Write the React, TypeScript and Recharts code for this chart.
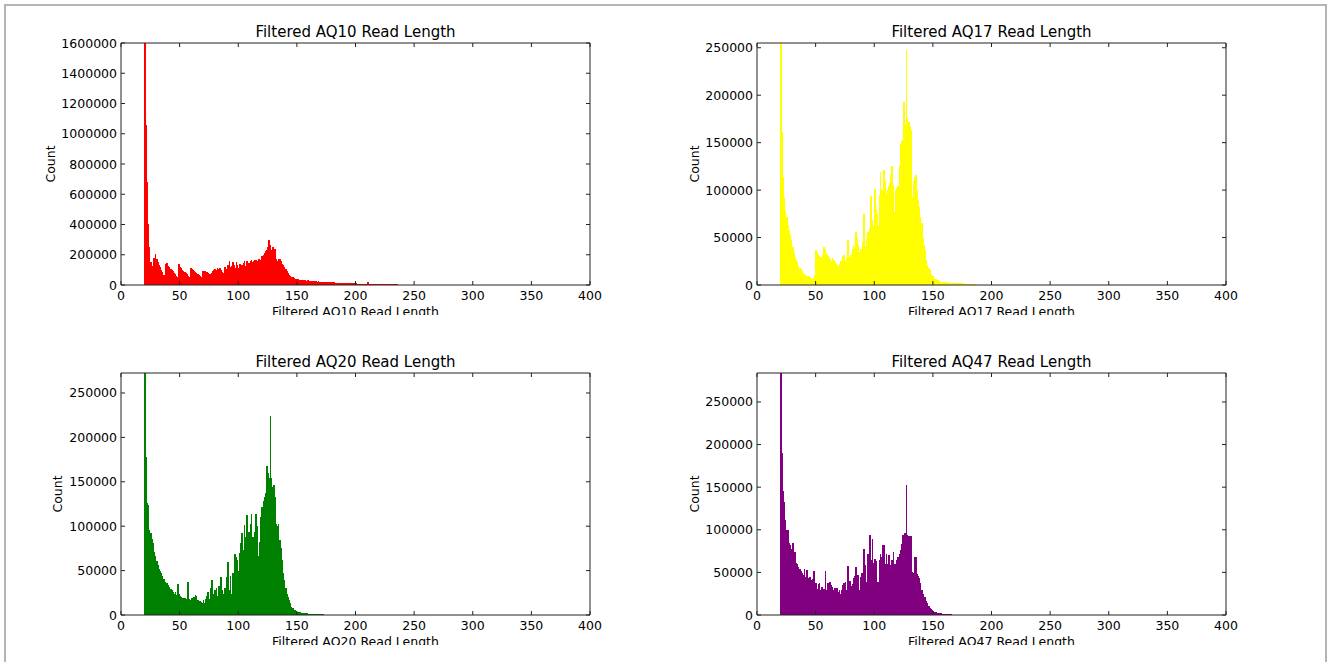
import { Bar, BarChart, ReferenceLine, XAxis, YAxis } from 'recharts'

// Histogram counts per read length, first bin at length 20
const FIRST_LENGTH = 20

const AQ10_COUNTS = [
  1650000, 1060000, 680000, 405000, 248000, 150000, 128000, 85000, 180000, 205000,
  172000, 150000, 132000, 116000, 100000, 84000, 68000, 52000, 140000, 148000,
  128000, 118000, 108000, 100000, 92000, 80000, 70000, 60000, 55000, 140000,
  120000, 110000, 100000, 95000, 85000, 80000, 72000, 60000, 50000, 115000,
  108000, 100000, 92000, 86000, 80000, 75000, 66000, 58000, 52000, 95000,
  92000, 90000, 88000, 84000, 80000, 76000, 72000, 80000, 92000, 100000,
  104000, 102000, 110000, 106000, 112000, 98000, 86000, 82000, 120000, 108000,
  88000, 130000, 160000, 120000, 125000, 150000, 135000, 110000, 155000, 135000,
  115000, 140000, 120000, 130000, 148000, 160000, 128000, 156000, 130000, 145000,
  158000, 164000, 150000, 158000, 165000, 168000, 160000, 172000, 140000, 165000,
  190000, 200000, 212000, 225000, 230000, 250000, 300000, 265000, 230000, 250000,
  232000, 240000, 175000, 158000, 172000, 175000, 158000, 142000, 130000, 120000,
  108000, 95000, 80000, 68000, 58000, 52000, 50000, 46000, 42000, 40000,
  38000, 37000, 36000, 35000, 34000, 33000, 31000, 30000, 29000, 30000,
  29000, 28000, 27000, 26000, 25000, 25000, 24000, 23000, 24000, 23000,
  22000, 22000, 23000, 21000, 20000, 20000, 19000, 19000, 18000, 18000,
  17000, 17000, 16000, 16000, 15000, 15000, 14000, 14000, 13500, 14000,
  13000, 13000, 12500, 12000, 12000, 11500, 11000, 11000, 10500, 10000,
  10000, 9500, 9000, 9000, 8800, 8500, 8200, 8000, 7800, 7600,
  22000, 7400, 7200, 7000, 6800, 6600, 6400, 6200, 6000, 6000,
  5800, 5600, 5500, 5400, 5200, 5000, 5000, 4800, 4600, 4500,
  4400, 4200, 4000, 3800, 3600, 3500,
]

const AQ17_COUNTS = [
  260000, 161000, 114000, 93000, 79000, 72000, 63000, 58000, 53000, 47000,
  40000, 34000, 30000, 26000, 24000, 20000, 18000, 16500, 15000, 13000,
  12000, 11000, 10000, 9500, 9000, 8000, 7000, 6000, 7500, 11000,
  37000, 35000, 33000, 31000, 29000, 30000, 32000, 40000, 38000, 33000,
  31000, 30000, 27000, 25000, 28000, 26000, 24000, 22000, 21000, 20000,
  22000, 25000, 24000, 31000, 32000, 25000, 28000, 47000, 30000, 26000,
  32000, 38000, 42000, 40000, 56000, 50000, 42000, 35000, 38000, 33000,
  45000, 75000, 40000, 48000, 56000, 33000, 60000, 94000, 68000, 62000,
  101000, 80000, 75000, 62000, 95000, 119000, 100000, 98000, 121000, 110000,
  96000, 100000, 104000, 108000, 116000, 125000, 105000, 77000, 100000, 102000,
  104000, 125000, 149000, 152000, 153000, 193000, 170000, 248000, 176000, 172000,
  168000, 163000, 93000, 110000, 114000, 116000, 100000, 90000, 82000, 72000,
  65000, 49000, 42000, 37000, 26000, 21000, 18000, 16000, 12000, 10000,
  9000, 6500, 6000, 5500, 5000, 4000, 3500, 3500, 3200, 3000,
  3000, 2800, 2700, 2600, 2500, 2400, 2300, 2200, 2100, 2000,
  2000, 1900, 1800, 1800, 1700, 1600, 1500, 1500, 1400, 1300,
  1200, 1100, 1000, 900, 800, 700,
]

const AQ20_COUNTS = [
  280000, 178000, 126000, 124000, 96000, 92000, 86000, 81000, 71000, 66000,
  61000, 56000, 52000, 49000, 47000, 44000, 41000, 37500, 36000, 35500,
  34000, 32000, 29000, 28000, 26000, 24000, 26000, 22500, 35000, 24000,
  21000, 20000, 19500, 19000, 19000, 18500, 17000, 37500, 18000, 16500,
  19000, 15000, 20000, 22000, 21000, 17000, 15000, 16000, 14500, 13000,
  17000, 13000, 18000, 21000, 26000, 18000, 30000, 39000, 24000, 18000,
  28000, 30000, 21000, 33000, 22000, 43000, 28000, 24000, 30000, 18000,
  43000, 60000, 28000, 44000, 24000, 47000, 40000, 69000, 65000, 62000,
  49000, 70000, 81000, 92000, 73000, 101000, 88000, 113000, 84000, 93000,
  102000, 114000, 88000, 84000, 93000, 114000, 100000, 66000, 82000, 110000,
  122000, 128000, 133000, 137000, 168000, 160000, 154000, 224000, 154000, 144000,
  146000, 133000, 102000, 100000, 102000, 84000, 75000, 62000, 47000, 39000,
  30000, 24000, 20000, 17000, 14000, 9000, 8000, 6000, 5600, 4900,
  3700, 3200, 3000, 2800, 2500, 2300, 2100, 1900, 1800, 1600,
  1500, 1400, 1300, 1200, 1100, 1000, 1000, 900, 900, 800,
  1500, 700, 600,
]

const AQ47_COUNTS = [
  290000, 190000, 145000, 133000, 111000, 100000, 100000, 85000, 82000, 77000,
  84000, 72000, 74000, 61000, 60000, 56000, 54000, 52000, 49000, 47000,
  54000, 45000, 53000, 43000, 42000, 45000, 41000, 42000, 52000, 36000,
  38000, 31000, 36000, 38000, 29000, 33000, 29000, 31000, 52000, 29000,
  37000, 31000, 39000, 35000, 33000, 29000, 32000, 27000, 32000, 27000,
  29000, 25000, 29000, 35000, 38000, 39000, 29000, 57000, 38000, 40000,
  34000, 36000, 43000, 46000, 56000, 42000, 47000, 29000, 45000, 49000,
  29000, 77000, 59000, 39000, 72000, 45000, 94000, 64000, 89000, 61000,
  66000, 63000, 33000, 39000, 64000, 72000, 68000, 82000, 82000, 60000,
  72000, 60000, 70000, 59000, 49000, 65000, 74000, 60000, 49000, 64000,
  68000, 72000, 76000, 83000, 94000, 88000, 96000, 152000, 94000, 93000,
  92000, 93000, 50000, 49000, 68000, 68000, 48000, 46000, 43000, 37000,
  29000, 25000, 21000, 21000, 17000, 14000, 10500, 8000, 6600, 6400,
  5000, 4000, 3200, 2800, 2500, 2200, 2000, 1800, 1600, 1500,
  1300, 1200, 1100, 1000, 1200, 800,
]

const X_TICKS = [0, 50, 100, 150, 200, 250, 300, 350, 400]
const Y_TICKS_AQ10 = [0, 200000, 400000, 600000, 800000, 1000000, 1200000, 1400000, 1600000]
const Y_TICKS = [0, 50000, 100000, 150000, 200000, 250000]

const FONT = '"DejaVu Sans", Verdana, sans-serif'
const FRAME = '#222'
const PLOT_W = 469
const PLOT_H = 242
const Y_AXIS_W = 121
const RIGHT_GAP = 30
const TOP_GAP = 28
const TICK_LEN = 4

function XTick({ x, y, payload }: any) {
  return (
    <g>
      <line x1={x} x2={x} y1={y} y2={y - TICK_LEN} stroke={FRAME} />
      <line x1={x} x2={x} y1={y - PLOT_H} y2={y - PLOT_H + TICK_LEN} stroke={FRAME} />
      <text x={x} y={y + 14.5} textAnchor="middle" fontSize={12.5} fontFamily={FONT} fill="#000">
        {payload.value}
      </text>
    </g>
  )
}

function YTick({ x, y, payload }: any) {
  return (
    <g>
      <line x1={x} x2={x + TICK_LEN} y1={y} y2={y} stroke={FRAME} />
      <line x1={x + PLOT_W - TICK_LEN} x2={x + PLOT_W} y1={y} y2={y} stroke={FRAME} />
      <text x={x - 4} y={y} dy="0.36em" textAnchor="end" fontSize={12.5} fontFamily={FONT} fill="#000">
        {payload.value}
      </text>
    </g>
  )
}

// histogram bins touch each other: widen the library's bar a little so no seams show
function BinShape({ x, y, width, height, fill }: any) {
  if (!height || height <= 0) return null
  return <rect x={x - 0.35} y={y} width={width + 0.7} height={height} fill={fill} shapeRendering="crispEdges" />
}

interface PanelProps {
  title: string
  xLabel: string
  color: string
  counts: number[]
  yMax: number
  yTicks: number[]
  left: number
  top: number
  clipBottom: number
  yLabelX: number
}

function Panel({ title, xLabel, color, counts, yMax, yTicks, left, top, clipBottom, yLabelX }: PanelProps) {
  const data = counts.map((count, i) => ({ len: FIRST_LENGTH + i + 0.5, count }))
  const text = { position: 'absolute' as const, whiteSpace: 'nowrap' as const, fontFamily: FONT, color: '#000' }

  return (
    <div style={{ position: 'absolute', left: 0, top: 0, width: 1328, height: clipBottom, overflow: 'hidden' }}>
      <div style={{ ...text, left: left + PLOT_W / 2, top: top - 11, fontSize: 15, lineHeight: '15px', transform: 'translate(-50%, -50%)' }}>
        {title}
      </div>
      <div style={{ ...text, left: left + PLOT_W / 2, top: top + PLOT_H + 26, fontSize: 12.5, lineHeight: '13px', transform: 'translate(-50%, -50%)' }}>
        {xLabel}
      </div>
      <div style={{ ...text, left: yLabelX, top: top + PLOT_H / 2, fontSize: 12.5, lineHeight: '13px', transform: 'translate(-50%, -50%) rotate(-90deg)' }}>
        Count
      </div>
      <div style={{ position: 'absolute', left: left - Y_AXIS_W, top: top - TOP_GAP }}>
        <BarChart
          width={Y_AXIS_W + PLOT_W + RIGHT_GAP}
          height={TOP_GAP + PLOT_H + 60}
          data={data}
          margin={{ top: TOP_GAP, right: RIGHT_GAP, bottom: 0, left: 0 }}
          barCategoryGap={0}
          barGap={0}
        >
          <XAxis
            type="number"
            dataKey="len"
            domain={[0, 400]}
            ticks={X_TICKS}
            interval={0}
            allowDataOverflow
            height={60}
            tickSize={0}
            tickMargin={0}
            tickLine={false}
            axisLine={{ stroke: FRAME }}
            tick={(p: any) => <XTick {...p} />}
          />
          <YAxis
            type="number"
            domain={[0, yMax]}
            ticks={yTicks}
            interval={0}
            allowDataOverflow
            width={Y_AXIS_W}
            tickSize={0}
            tickMargin={0}
            tickLine={false}
            axisLine={{ stroke: FRAME }}
            tick={(p: any) => <YTick {...p} />}
          />
          <Bar dataKey="count" fill={color} shape={(p: any) => <BinShape {...p} />} isAnimationActive={false} />
          <ReferenceLine y={yMax} stroke={FRAME} />
          <ReferenceLine x={400} stroke={FRAME} />
        </BarChart>
      </div>
    </div>
  )
}

export default function App() {
  return (
    <div style={{ position: 'absolute', left: 0, top: 0, width: 1328, height: 662, background: '#fff', overflow: 'hidden' }}>
      <div
        style={{
          position: 'absolute',
          left: 4,
          top: 4,
          width: 1323,
          height: 700,
          boxSizing: 'border-box',
          border: '2px solid #b4b4b4',
        }}
      />
      <Panel title="Filtered AQ10 Read Length" xLabel="Filtered AQ10 Read Length" color="#ff0000"
        counts={AQ10_COUNTS} yMax={1600000} yTicks={Y_TICKS_AQ10} left={121} top={43} clipBottom={315} yLabelX={50} />
      <Panel title="Filtered AQ17 Read Length" xLabel="Filtered AQ17 Read Length" color="#ffff00"
        counts={AQ17_COUNTS} yMax={255000} yTicks={Y_TICKS} left={757} top={43} clipBottom={315} yLabelX={694} />
      <Panel title="Filtered AQ20 Read Length" xLabel="Filtered AQ20 Read Length" color="#008000"
        counts={AQ20_COUNTS} yMax={272500} yTicks={Y_TICKS} left={121} top={373} clipBottom={645} yLabelX={57} />
      <Panel title="Filtered AQ47 Read Length" xLabel="Filtered AQ47 Read Length" color="#800080"
        counts={AQ47_COUNTS} yMax={284000} yTicks={Y_TICKS} left={757} top={373} clipBottom={645} yLabelX={694} />
    </div>
  )
}
